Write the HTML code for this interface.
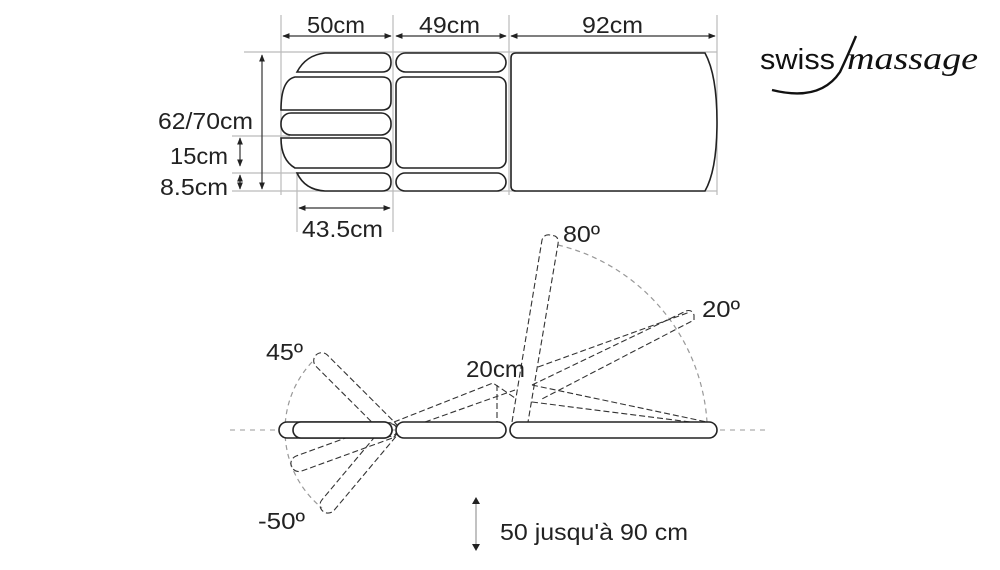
<!DOCTYPE html>
<html><head><meta charset="utf-8"><style>
html,body{margin:0;padding:0;background:#fff;width:1000px;height:570px;overflow:hidden}
svg{display:block}
text{font-family:"Liberation Sans",Arial,sans-serif;fill:#222}
</style></head><body>
<svg width="1000" height="570" viewBox="0 0 1000 570" xmlns="http://www.w3.org/2000/svg">
<defs>
<marker id="a" viewBox="0 0 10 10" refX="9" refY="5" markerWidth="6" markerHeight="6" orient="auto-start-reverse"><path d="M0,1 L10,5 L0,9 z" fill="#222"/></marker>
</defs>
<g stroke="#bbb" stroke-width="1.2" fill="none">
<line x1="281" y1="15" x2="281" y2="195"/>
<line x1="393" y1="15" x2="393" y2="232"/>
<line x1="509" y1="15" x2="509" y2="195"/>
<line x1="717" y1="15" x2="717" y2="195"/>
<line x1="297" y1="172" x2="297" y2="232"/>
<line x1="244" y1="52" x2="717" y2="52"/>
<line x1="232" y1="191" x2="717" y2="191"/>
<line x1="232" y1="136" x2="290" y2="136"/>
<line x1="232" y1="173" x2="297" y2="173"/>
</g>
<g stroke="#333" stroke-width="1.2" fill="none">
<line x1="283" y1="36" x2="391" y2="36" marker-start="url(#a)" marker-end="url(#a)"/>
<line x1="396" y1="36" x2="506" y2="36" marker-start="url(#a)" marker-end="url(#a)"/>
<line x1="511" y1="36" x2="715" y2="36" marker-start="url(#a)" marker-end="url(#a)"/>
<line x1="262" y1="55" x2="262" y2="189" marker-start="url(#a)" marker-end="url(#a)"/>
<line x1="240" y1="138" x2="240" y2="166" marker-start="url(#a)" marker-end="url(#a)"/>
<line x1="240" y1="175" x2="240" y2="189" marker-start="url(#a)" marker-end="url(#a)"/>
<line x1="299" y1="208" x2="390" y2="208" marker-start="url(#a)" marker-end="url(#a)"/>
</g>
<g font-size="23">
<text x="307" y="33" textLength="58" lengthAdjust="spacingAndGlyphs">50cm</text>
<text x="419" y="33" textLength="61" lengthAdjust="spacingAndGlyphs">49cm</text>
<text x="582" y="33" textLength="61" lengthAdjust="spacingAndGlyphs">92cm</text>
<text x="158" y="129" textLength="95" lengthAdjust="spacingAndGlyphs">62/70cm</text>
<text x="170" y="164" textLength="58" lengthAdjust="spacingAndGlyphs">15cm</text>
<text x="160" y="195" textLength="68" lengthAdjust="spacingAndGlyphs">8.5cm</text>
<text x="302" y="237" textLength="81" lengthAdjust="spacingAndGlyphs">43.5cm</text>
</g>
<g stroke="#222" stroke-width="1.6" fill="#fff">
<path d="M297,72 Q306,55 325,53 L382,53 Q391,53 391,62.5 Q391,72 382,72 Z"/>
<path d="M281,110 Q281,80 295,77 L382,77 Q391,77 391,86 L391,101 Q391,110 382,110 Z"/>
<rect x="281" y="113" width="110" height="22" rx="10"/>
<path d="M281,138 L382,138 Q391,138 391,147 L391,159 Q391,168 382,168 L295,168 Q281,160 281,138 Z"/>
<path d="M297,173 L382,173 Q391,173 391,182 Q391,191 382,191 L325,191 Q305,190 297,173 Z"/>
<rect x="396" y="53" width="110" height="19" rx="9.5"/>
<rect x="396" y="77" width="110" height="91" rx="8"/>
<rect x="396" y="173" width="110" height="18" rx="9"/>
<path d="M511,58 Q511,53 516,53 L705,53 Q717,75 717,122 Q717,170 705,191 L516,191 Q511,191 511,186 Z"/>
</g>
<line x1="230" y1="430" x2="770" y2="430" stroke="#999" stroke-width="1" stroke-dasharray="5,5"/>
<g stroke="#999" stroke-width="1.2" fill="none" stroke-dasharray="5,4">
<path d="M312,362 A100,100 0 0 0 322,508"/>
<path d="M558,245 A195,195 0 0 1 707,422"/>
</g>
<g stroke="#333" stroke-width="1.1" fill="none" stroke-dasharray="6,3">
<g transform="translate(391,430) rotate(-135)"><rect x="-6" y="-8" width="112" height="16" rx="8"/></g>
<g transform="translate(391,430) rotate(130)"><rect x="-6" y="-8" width="112" height="16" rx="8"/></g>
<g transform="translate(391,430) rotate(160)"><rect x="-6" y="-8" width="112" height="16" rx="8"/></g>
<path d="M394,422 L493,383 L515,398"/>
<path d="M425,422 L515,390"/>
<line x1="497" y1="385" x2="497" y2="422"/>
<path d="M512,422 L542,240 Q544,234 550,235 L555,236 Q559,238 558,244 L528,422"/>
<path d="M532,385 L686,311 Q692,309 694,315 L694,320 L540,400"/>
<path d="M538,367 L690,312"/>
<path d="M532,385 L707,422"/>
<path d="M532,402 L690,422"/>
</g>
<g stroke="#222" stroke-width="1.6" fill="#fff">
<rect x="279" y="422" width="113" height="16" rx="8"/>
<rect x="293" y="422" width="99" height="16" rx="8"/>
<rect x="396" y="422" width="110" height="16" rx="8"/>
<rect x="510" y="422" width="207" height="16" rx="8"/>
</g>
<g font-size="23">
<text x="563" y="242" textLength="37" lengthAdjust="spacingAndGlyphs">80º</text>
<text x="702" y="317" textLength="38" lengthAdjust="spacingAndGlyphs">20º</text>
<text x="266" y="360" textLength="37" lengthAdjust="spacingAndGlyphs">45º</text>
<text x="258" y="529" textLength="47" lengthAdjust="spacingAndGlyphs">-50º</text>
<text x="466" y="377" textLength="59" lengthAdjust="spacingAndGlyphs">20cm</text>
<text x="500" y="540" textLength="188" lengthAdjust="spacingAndGlyphs">50 jusqu'à 90 cm</text>
</g>
<line x1="476" y1="502" x2="476" y2="546" stroke="#999" stroke-width="1.2"/>
<path d="M472,504 L476,497 L480,504 Z M472,544 L476,551 L480,544 Z" fill="#222"/>
<text x="760" y="69" font-size="29" textLength="75" lengthAdjust="spacingAndGlyphs" style="fill:#111">swiss</text>
<text x="847" y="69" font-size="32" font-style="italic" textLength="131" lengthAdjust="spacingAndGlyphs" style="font-family:'Liberation Serif',serif;fill:#111">massage</text>
<path d="M772,90 Q820,102 840,72 Q848,55 856,36" stroke="#111" stroke-width="2.4" fill="none"/>
</svg>
</body></html>
